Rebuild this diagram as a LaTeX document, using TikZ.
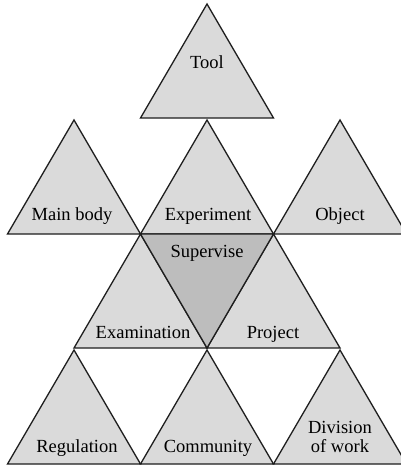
\documentclass[tikz,border=0pt]{standalone}
\usepackage{fontspec}
\setmainfont{Liberation Serif}
\definecolor{lightfill}{RGB}{218,218,218}
\definecolor{darkfill}{RGB}{189,189,189}
\definecolor{edgecol}{RGB}{30,30,30}
\newcommand\mytri[3]{\draw[tri,#3] (#1,#2) -- ++(-66.5,114) -- ++(133,0) -- cycle;}
\begin{document}
\begin{tikzpicture}[x=1pt,y=-1pt,
  tri/.style={fill=lightfill,draw=edgecol,line width=1.3pt,line join=miter},
  lbl/.style={font=\fontsize{18.5}{19}\selectfont,anchor=base,inner sep=0pt,align=center,text=black}]
\useasboundingbox (0,0) rectangle (400,466);
% row 1
\mytri{207}{4}{}
% row 2
\mytri{74}{120}{}
\mytri{207}{120}{}
\mytri{340}{120}{}
% row 3
\mytri{140.5}{234}{}
\mytri{273.5}{234}{}
\draw[tri,fill=darkfill] (140.5,234) -- (273.5,234) -- (207,348) -- cycle;
% row 4
\mytri{74}{350}{}
\mytri{207}{350}{}
\mytri{340}{350}{}
% labels
\node[lbl] (tool) at (207,68) {Tool};
\node[lbl] (main) at (72,220) {Main body};
\node[lbl] (exp) at (208,220) {Experiment};
\node[lbl] (obj) at (340,220) {Object};
\node[lbl] (sup) at (207,257) {Supervise};
\node[lbl] (exam) at (143,338) {Examination};
\node[lbl] (proj) at (273,338) {Project};
\node[lbl] (reg) at (77,452) {Regulation};
\node[lbl] (com) at (208,452) {Community};
\node[lbl] (div) at (340,452) {Division\\of work};
\end{tikzpicture}
\end{document}
